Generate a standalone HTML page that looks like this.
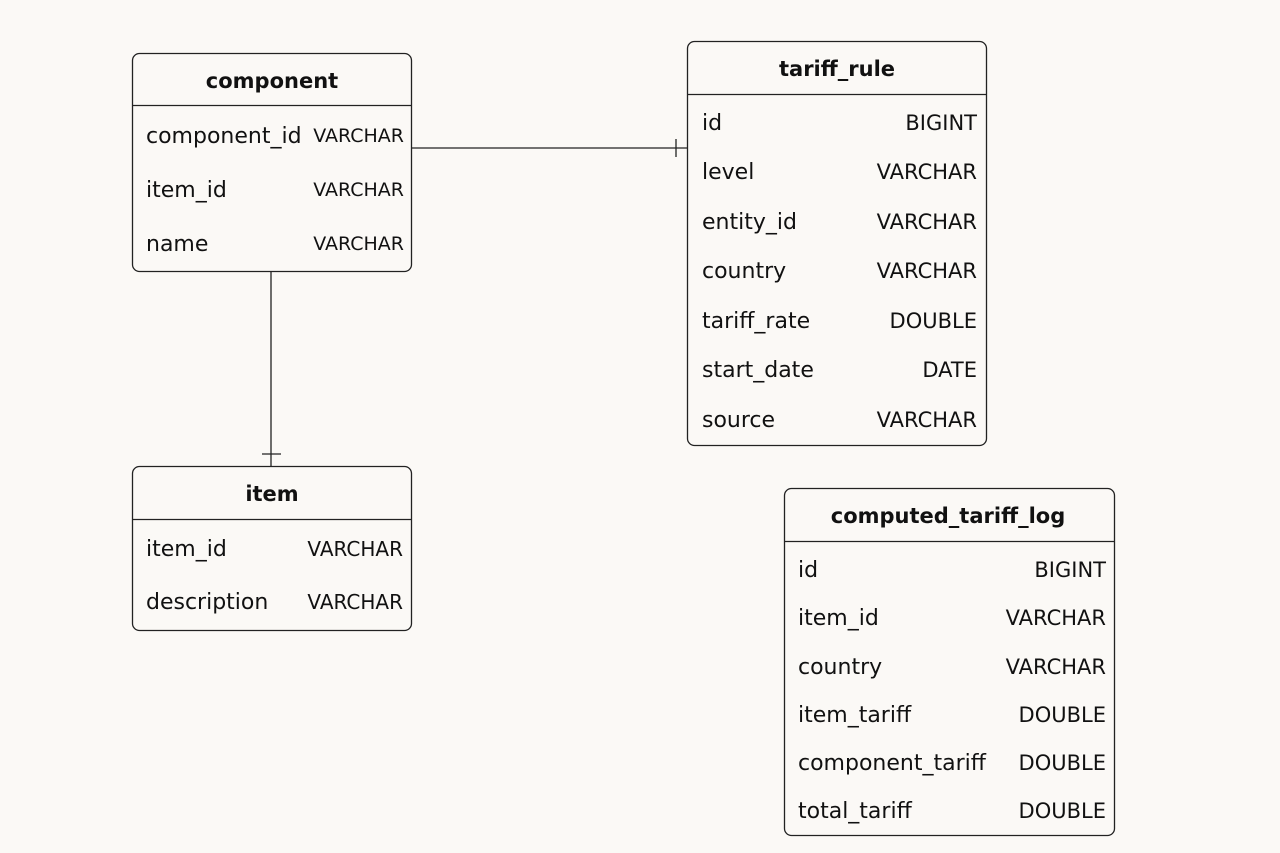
<!DOCTYPE html>
<html><head><meta charset="utf-8"><style>
html,body{margin:0;padding:0;background:#fbf9f6;}
svg{display:block;}
text{font-family:"DejaVu Sans","Liberation Sans",sans-serif;fill:#111;}
.t{font-weight:bold;font-size:21px;text-anchor:middle;}
.n{font-size:22px;}
.ty{font-size:21px;text-anchor:end;}
.ty19{font-size:19px;text-anchor:end;}
.ty20{font-size:20px;text-anchor:end;}
</style></head><body>
<svg width="1280" height="853" viewBox="0 0 1280 853">
<rect width="1280" height="853" fill="#fbf9f6"/>
<g stroke="#222" stroke-width="1.3" fill="none">
<line x1="411" y1="148" x2="687" y2="148"/><line x1="676" y1="139" x2="676" y2="157"/>
<line x1="271" y1="271" x2="271" y2="466"/><line x1="262" y1="454" x2="281" y2="454"/>
<rect x="132.5" y="53.5" width="279" height="218" rx="7" fill="#fbf9f6"/><line x1="132" y1="105.5" x2="411" y2="105.5"/>
<rect x="687.5" y="41.5" width="299" height="404" rx="7" fill="#fbf9f6"/><line x1="687" y1="94.5" x2="986" y2="94.5"/>
<rect x="132.5" y="466.5" width="279" height="164" rx="7" fill="#fbf9f6"/><line x1="132" y1="519.5" x2="411" y2="519.5"/>
<rect x="784.5" y="488.5" width="330" height="347" rx="7" fill="#fbf9f6"/><line x1="784" y1="541.5" x2="1114" y2="541.5"/>
</g>
<text class="t" x="272" y="88">component</text>
<text class="n" x="146" y="143">component_id</text><text class="ty19" x="404" y="142">VARCHAR</text>
<text class="n" x="146" y="197">item_id</text><text class="ty19" x="404" y="196">VARCHAR</text>
<text class="n" x="146" y="251">name</text><text class="ty19" x="404" y="250">VARCHAR</text>

<text class="t" x="837" y="76">tariff_rule</text>
<text class="n" x="702" y="130">id</text><text class="ty" x="977" y="130">BIGINT</text>
<text class="n" x="702" y="179">level</text><text class="ty" x="977" y="179">VARCHAR</text>
<text class="n" x="702" y="229">entity_id</text><text class="ty" x="977" y="229">VARCHAR</text>
<text class="n" x="702" y="278">country</text><text class="ty" x="977" y="278">VARCHAR</text>
<text class="n" x="702" y="328">tariff_rate</text><text class="ty" x="977" y="328">DOUBLE</text>
<text class="n" x="702" y="377">start_date</text><text class="ty" x="977" y="377">DATE</text>
<text class="n" x="702" y="427">source</text><text class="ty" x="977" y="427">VARCHAR</text>

<text class="t" x="272" y="501">item</text>
<text class="n" x="146" y="556">item_id</text><text class="ty20" x="403" y="556">VARCHAR</text>
<text class="n" x="146" y="609">description</text><text class="ty20" x="403" y="609">VARCHAR</text>

<text class="t" x="948" y="523">computed_tariff_log</text>
<text class="n" x="798" y="577">id</text><text class="ty" x="1106" y="577">BIGINT</text>
<text class="n" x="798" y="625">item_id</text><text class="ty" x="1106" y="625">VARCHAR</text>
<text class="n" x="798" y="674">country</text><text class="ty" x="1106" y="674">VARCHAR</text>
<text class="n" x="798" y="722">item_tariff</text><text class="ty" x="1106" y="722">DOUBLE</text>
<text class="n" x="798" y="770">component_tariff</text><text class="ty" x="1106" y="770">DOUBLE</text>
<text class="n" x="798" y="818">total_tariff</text><text class="ty" x="1106" y="818">DOUBLE</text>
</svg>
</body></html>
